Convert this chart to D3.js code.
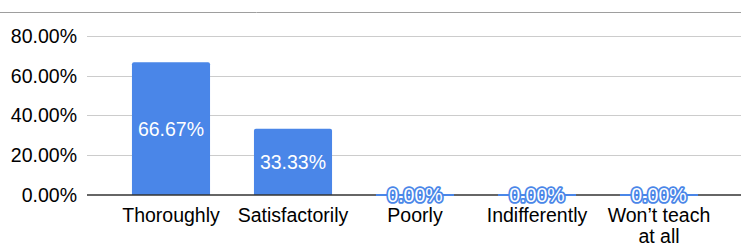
<!DOCTYPE html>
<html>
<head>
<meta charset="utf-8">
<script src="https://cdn.jsdelivr.net/npm/d3@7"></script>
<style>
  html, body { margin: 0; padding: 0; background: #fff; }
  svg { display: block; }
  text { font-family: "Liberation Sans", Arial, sans-serif; }
</style>
</head>
<body>
<svg id="chart" width="741" height="250"></svg>
<script>
const categories = ["Thoroughly", "Satisfactorily", "Poorly", "Indifferently", "Won\u2019t teach|at all"];
const values = [66.67, 33.33, 0, 0, 0];
const yTicks = [0, 20, 40, 60, 80];

const W = 741, H = 250;
const plotLeft = 87, plotRight = 741;
const svg = d3.select("#chart");
const fontSize = 19.5;
const blue = "#4a86e8";

const x = d3.scaleBand().domain(categories).range([110, 720]).paddingInner(0.36).paddingOuter(0.18);
const y = d3.scaleLinear().domain([0, 80]).range([195, 35.8]);

// top line
svg.append("line").attr("x1", 0).attr("x2", W).attr("y1", 12.5).attr("y2", 12.5)
  .attr("stroke", "#9e9e9e").attr("stroke-width", 1);

// gridlines
svg.append("g").selectAll("line").data(yTicks.filter(d => d > 0)).join("line")
  .attr("x1", plotLeft).attr("x2", plotRight)
  .attr("y1", d => Math.round(y(d)) + 0.5).attr("y2", d => Math.round(y(d)) + 0.5)
  .attr("stroke", "#cccccc").attr("stroke-width", 1);

// y tick labels
const fmt = d => d.toFixed(2) + "%";
svg.append("g").selectAll("text").data(yTicks).join("text")
  .attr("x", 77).attr("y", d => y(d)).attr("dy", "0.36em")
  .attr("text-anchor", "end").attr("font-size", fontSize).attr("fill", "#000")
  .text(fmt);

// bars
const r = 2;
function barPath(d, i) {
  const x0 = x(categories[i]), w = x.bandwidth();
  const y0 = y(d), y1 = y(0);
  if (y1 - y0 < r) return `M${x0},${y0}H${x0 + w}V${y1}H${x0}Z`;
  return `M${x0},${y1}V${y0 + r}Q${x0},${y0} ${x0 + r},${y0}H${x0 + w - r}Q${x0 + w},${y0} ${x0 + w},${y0 + r}V${y1}Z`;
}
svg.append("g").selectAll("path").data(values).join("path")
  .attr("d", (d, i) => barPath(d, i)).attr("fill", blue);

// axis baseline
svg.append("line").attr("x1", plotLeft).attr("x2", plotRight).attr("y1", 195).attr("y2", 195)
  .attr("stroke", "#333").attr("stroke-width", 1.3);

// zero bars: thin blue line
svg.append("g").selectAll("line").data(values.map((v, i) => ({v, i})).filter(d => d.v === 0)).join("line")
  .attr("x1", d => x(categories[d.i])).attr("x2", d => x(categories[d.i]) + x.bandwidth())
  .attr("y1", y(0)).attr("y2", y(0)).attr("stroke", blue).attr("stroke-width", 2);

// value labels
svg.append("g").selectAll("text").data(values).join("text")
  .attr("x", (d, i) => x(categories[i]) + x.bandwidth() / 2)
  .attr("y", d => (y(d) + y(0)) / 2)
  .attr("dy", "0.36em")
  .attr("text-anchor", "middle").attr("font-size", fontSize)
  .attr("fill", "#fff")
  .attr("stroke", d => d === 0 ? blue : "none")
  .attr("stroke-width", d => d === 0 ? 3.5 : 0)
  .attr("stroke-linejoin", "round")
  .attr("paint-order", "stroke")
  .text(d => d.toFixed(2) + "%");

// category labels
const cat = svg.append("g").selectAll("text").data(categories).join("text")
  .attr("x", d => x(d) + x.bandwidth() / 2)
  .attr("y", 222)
  .attr("text-anchor", "middle").attr("font-size", fontSize).attr("fill", "#000");
cat.each(function(d) {
  const lines = d.split("|");
  const t = d3.select(this);
  lines.forEach((l, k) => {
    t.append("tspan").attr("x", x(d) + x.bandwidth() / 2).attr("dy", k === 0 ? 0 : 21).text(l);
  });
});
</script>
</body>
</html>
